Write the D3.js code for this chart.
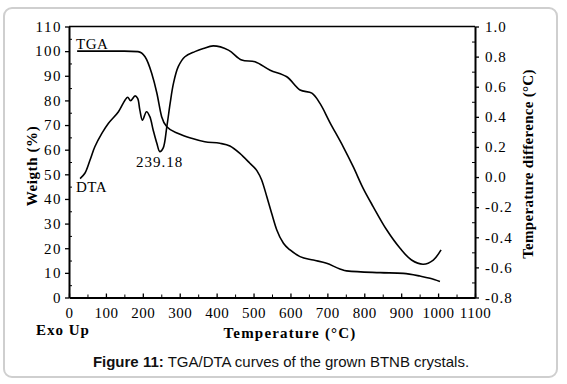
<!DOCTYPE html>
<html>
<head>
<meta charset="utf-8">
<script src="https://cdn.jsdelivr.net/npm/d3@7"></script>
<style>
  body { margin: 0; background: #fff; }
  svg { display: block; }
</style>
</head>
<body>
<svg id="chart" width="567" height="384"></svg>
<script>
// TGA curve: temperature (°C) vs weight (%)
const tgaTemp = [22, 100, 150, 187, 206, 224, 238, 251, 265, 296, 332, 368, 409, 436, 463, 490, 509, 522, 536, 549, 563, 581, 599, 626, 662, 698, 734, 752, 843, 906, 951, 978, 1005];
const tgaWeight = [100, 100, 100, 99.8, 97.7, 91, 83, 73.4, 69.3, 66.6, 64.6, 63.2, 62.6, 61.5, 58.5, 54.5, 51.5, 47.7, 40.9, 34.2, 27.4, 22, 19.3, 16.6, 15.2, 13.9, 11.6, 10.8, 10.1, 9.8, 8.7, 7.8, 6.5];

// DTA curve: temperature (°C) vs temperature difference (°C)
const dtaTemp = [30, 43, 57, 70, 89, 107, 134, 152, 159, 167, 179, 186, 192, 199, 210, 219, 228, 238, 246, 255, 265, 274, 283, 296, 314, 341, 364, 391, 432, 468, 504, 545, 590, 626, 658, 680, 707, 743, 770, 797, 824, 861, 897, 928, 960, 987, 1008];
const dtaDiff = [-0.01, 0.025, 0.113, 0.201, 0.29, 0.357, 0.434, 0.512, 0.53, 0.507, 0.539, 0.522, 0.445, 0.378, 0.434, 0.401, 0.313, 0.224, 0.169, 0.192, 0.334, 0.489, 0.622, 0.733, 0.799, 0.833, 0.854, 0.871, 0.843, 0.777, 0.766, 0.71, 0.666, 0.578, 0.557, 0.489, 0.362, 0.201, 0.069, -0.075, -0.196, -0.352, -0.473, -0.551, -0.579, -0.551, -0.484];

const xTicks = [0, 100, 200, 300, 400, 500, 600, 700, 800, 900, 1000, 1100];
const weightTicks = [0, 10, 20, 30, 40, 50, 60, 70, 80, 90, 100, 110];
const diffTicks = [-0.8, -0.6, -0.4, -0.2, 0.0, 0.2, 0.4, 0.6, 0.8, 1.0];

const svg = d3.select("#chart");
const serif = "'Liberation Serif', 'Times New Roman', serif";

// card border
svg.append("rect")
  .attr("x", 4).attr("y", 8)
  .attr("width", 553).attr("height", 369)
  .attr("rx", 8)
  .attr("fill", "#fff")
  .attr("stroke", "#cfcfcf")
  .attr("stroke-width", 2);

const plotLeft = 69, plotRight = 475, plotTop = 26.5, plotBottom = 297.5;

const x = d3.scaleLinear().domain([0, 1100]).range([plotLeft, plotRight]);
const yW = d3.scaleLinear().domain([0, 110]).range([plotBottom, plotTop]);
const yD = d3.scaleLinear().domain([-0.8, 1.0]).range([plotBottom, plotTop]);

// minor ticks
const minorAxis = (axis, vals) => axis.tickValues(vals).tickFormat("");
svg.append("g")
  .attr("transform", `translate(0,${ plotBottom })`)
  .call(minorAxis(d3.axisTop(x).tickSize(3), d3.range(50, 1100, 100)))
  .call(g => g.select(".domain").remove());
svg.append("g")
  .attr("transform", `translate(${ plotLeft },0)`)
  .call(minorAxis(d3.axisRight(yW).tickSize(3), d3.range(5, 110, 10)))
  .call(g => g.select(".domain").remove());
svg.append("g")
  .attr("transform", `translate(${ plotRight },0)`)
  .call(minorAxis(d3.axisLeft(yD).tickSize(3), d3.range(-0.7, 1.0, 0.2)))
  .call(g => g.select(".domain").remove());

// bottom axis
const xAxis = svg.append("g")
  .attr("transform", `translate(0,${ plotBottom })`)
  .call(d3.axisBottom(x).tickValues(xTicks).tickSize(-4).tickPadding(10).tickSizeOuter(0)
    .tickFormat(d => String(d)));

// left axis
const yAxisL = svg.append("g")
  .attr("transform", `translate(${ plotLeft },0)`)
  .call(d3.axisLeft(yW).tickValues(weightTicks).tickSize(4).tickPadding(3).tickSizeOuter(0)
    .tickFormat(d => String(d)));

// right axis
const yAxisR = svg.append("g")
  .attr("transform", `translate(${ plotRight },0)`)
  .call(d3.axisRight(yD).tickValues(diffTicks).tickSize(4).tickPadding(6).tickSizeOuter(0)
    .tickFormat(d => d.toFixed(1)));

[xAxis, yAxisL, yAxisR].forEach(g =>
{
  g.select(".domain").attr("stroke", "#000").attr("stroke-width", 2);
  g.selectAll(".tick line").attr("stroke", "#000").attr("stroke-width", 1.3);
  g.selectAll("text")
    .attr("fill", "#000")
    .style("font-family", serif)
    .style("font-size", "15px");
});
yAxisL.selectAll("text").style("letter-spacing", "1.5px");
yAxisR.selectAll("text").style("letter-spacing", "1px");
xAxis.selectAll("text").style("letter-spacing", "0.5px");
svg.selectAll("g .tick line").attr("stroke", "#000");

// top frame line
svg.append("line")
  .attr("x1", plotLeft).attr("x2", plotRight)
  .attr("y1", plotTop).attr("y2", plotTop)
  .attr("stroke", "#000").attr("stroke-width", 1.6);

// curves
const tgaData = tgaTemp.map((t, i) => ({ t, v: tgaWeight[i] }));
const dtaData = dtaTemp.map((t, i) => ({ t, v: dtaDiff[i] }));

svg.append("path")
  .datum(tgaData)
  .attr("fill", "none")
  .attr("stroke", "#000")
  .attr("stroke-width", 1.6)
  .attr("d", d3.line().x(d => x(d.t)).y(d => yW(d.v)).curve(d3.curveMonotoneX));

svg.append("path")
  .datum(dtaData)
  .attr("fill", "none")
  .attr("stroke", "#000")
  .attr("stroke-width", 1.6)
  .attr("d", d3.line().x(d => x(d.t)).y(d => yD(d.v)).curve(d3.curveCatmullRom.alpha(0.5)));

// in-plot labels
const label = (txt, px, py, opts = {}) =>
  svg.append("text")
    .attr("x", px).attr("y", py)
    .attr("text-anchor", opts.anchor || "start")
    .attr("transform", opts.rotate ? `rotate(${ opts.rotate },${ px },${ py })` : null)
    .style("font-family", serif)
    .style("font-size", (opts.size || 15) + "px")
    .style("font-weight", opts.bold ? "bold" : "normal")
    .style("letter-spacing", opts.ls || "0px")
    .text(txt);

label("TGA", 76, 49, { ls: "0.5px" });
label("DTA", 76, 192, { ls: "0.5px" });
label("239.18", 136, 167, { ls: "1px" });

// axis titles
label("Weigth (%)", 37, 166, { anchor: "middle", rotate: -90, bold: true, size: 15, ls: "0.6px" });
label("Temperature difference (°C)", 533, 164, { anchor: "middle", rotate: -90, bold: true, size: 15, ls: "0.3px" });
label("Temperature (°C)", 290, 338, { anchor: "middle", bold: true, size: 15, ls: "1.2px" });
label("Exo Up", 36, 335, { bold: true, size: 15, ls: "1px" });

// caption
const cap = svg.append("text")
  .attr("x", 281).attr("y", 367)
  .attr("text-anchor", "middle")
  .style("font-family", "'Liberation Sans', Arial, sans-serif")
  .style("font-size", "15px")
  .attr("fill", "#111");
cap.append("tspan").style("font-weight", "bold").text("Figure 11:");
cap.append("tspan").text(" TGA/DTA curves of the grown BTNB crystals.");
</script>
</body>
</html>
